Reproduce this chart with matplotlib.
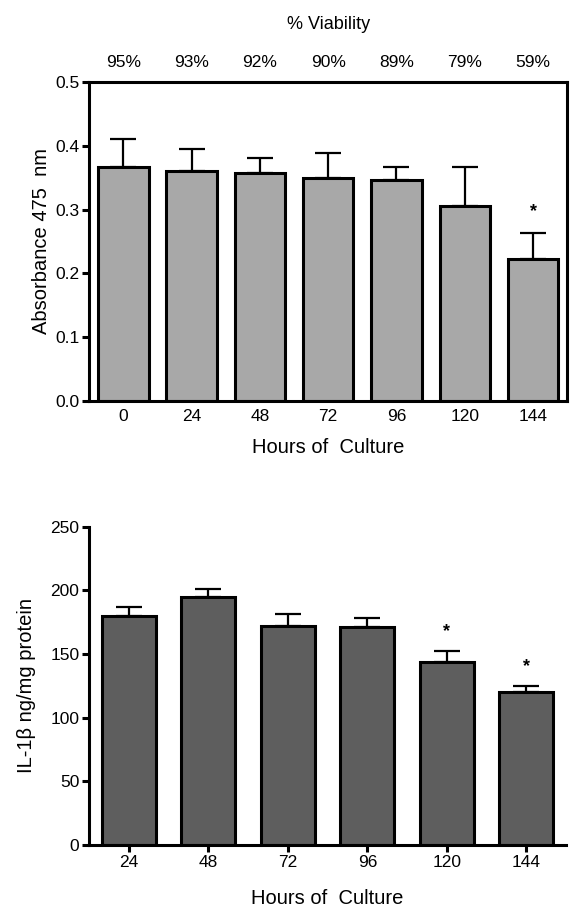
import numpy as np
import matplotlib.pyplot as plt

plt.rcParams['font.family'] = ['Liberation Sans', 'DejaVu Sans']

# top panel: absorbance / viability
hours_top = ['0', '24', '48', '72', '96', '120', '144']
absorbance = [0.366, 0.360, 0.357, 0.349, 0.346, 0.305, 0.223]
absorbance_err = [0.045, 0.035, 0.024, 0.040, 0.021, 0.061, 0.041]
viability = ['95%', '93%', '92%', '90%', '89%', '79%', '59%']
sig_top = [False, False, False, False, False, False, True]

# bottom panel: IL-1beta
hours_bot = ['24', '48', '72', '96', '120', '144']
il1b = [180, 195, 172, 171, 143.5, 120]
il1b_err = [7, 6, 9.5, 7, 9, 4.7]
sig_bot = [False, False, False, False, True, True]

fig = plt.figure(figsize=(5.86, 9.13), dpi=100)
ax1 = fig.add_axes([0.152, 0.5608, 0.816, 0.3494])
ax2 = fig.add_axes([0.152, 0.0745, 0.814, 0.3486])

lw = 2.2
tick_fs = 12.5
label_fs = 14.5


def style(ax):
    for s in ax.spines.values():
        s.set_linewidth(lw)
    ax.tick_params(direction='out', length=5, width=lw, labelsize=tick_fs, pad=2)


# top
x = np.arange(len(hours_top))
ax1.bar(x, absorbance, width=0.74, color='#a8a8a8', edgecolor='black', linewidth=lw, zorder=2)
ax1.errorbar(x, absorbance, yerr=[np.zeros(len(x)), absorbance_err], fmt='none',
             ecolor='black', elinewidth=1.6, capsize=9.5, capthick=1.6, zorder=1)
for i, s in enumerate(sig_top):
    if s:
        ax1.text(x[i], absorbance[i] + absorbance_err[i] + 0.033, '*', ha='center', va='center',
                 fontsize=13, fontweight='bold')
ax1.set_xlim(-0.5, len(x) - 0.5)
ax1.set_ylim(0, 0.5)
ax1.set_yticks([0.0, 0.1, 0.2, 0.3, 0.4, 0.5])
ax1.set_yticklabels(['0.0', '0.1', '0.2', '0.3', '0.4', '0.5'])
ax1.set_xticks(x)
ax1.set_xticklabels(hours_top)
ax1.set_ylabel('Absorbance 475  nm', fontsize=label_fs, labelpad=3)
ax1.set_xlabel('Hours of  Culture', fontsize=label_fs, labelpad=10)
style(ax1)
ax1.tick_params(axis='x', length=0, pad=6)
for i, v in enumerate(viability):
    ax1.text(x[i], 0.531, v, ha='center', va='center', fontsize=tick_fs)
ax1.text(0.5, 1.179, '% Viability', transform=ax1.transAxes, ha='center', va='center', fontsize=13)

# bottom
x2 = np.arange(len(hours_bot))
ax2.bar(x2, il1b, width=0.68, color='#5e5e5e', edgecolor='black', linewidth=lw, zorder=2)
ax2.errorbar(x2, il1b, yerr=[np.zeros(len(x2)), il1b_err], fmt='none',
             ecolor='black', elinewidth=1.6, capsize=9.5, capthick=1.6, zorder=1)
for i, s in enumerate(sig_bot):
    if s:
        ax2.text(x2[i], il1b[i] + il1b_err[i] + 15.5, '*', ha='center', va='center',
                 fontsize=13, fontweight='bold')
ax2.set_xlim(-0.5, len(x2) - 0.5)
ax2.set_ylim(0, 250)
ax2.set_yticks([0, 50, 100, 150, 200, 250])
ax2.set_xticks(x2)
ax2.set_xticklabels(hours_bot)
ax2.set_ylabel('IL-1β ng/mg protein', fontsize=label_fs, labelpad=10)
ax2.set_xlabel('Hours of  Culture', fontsize=label_fs, labelpad=14)
style(ax2)
ax2.spines['top'].set_visible(False)
ax2.spines['right'].set_visible(False)

fig.savefig('out.png', dpi=100)
